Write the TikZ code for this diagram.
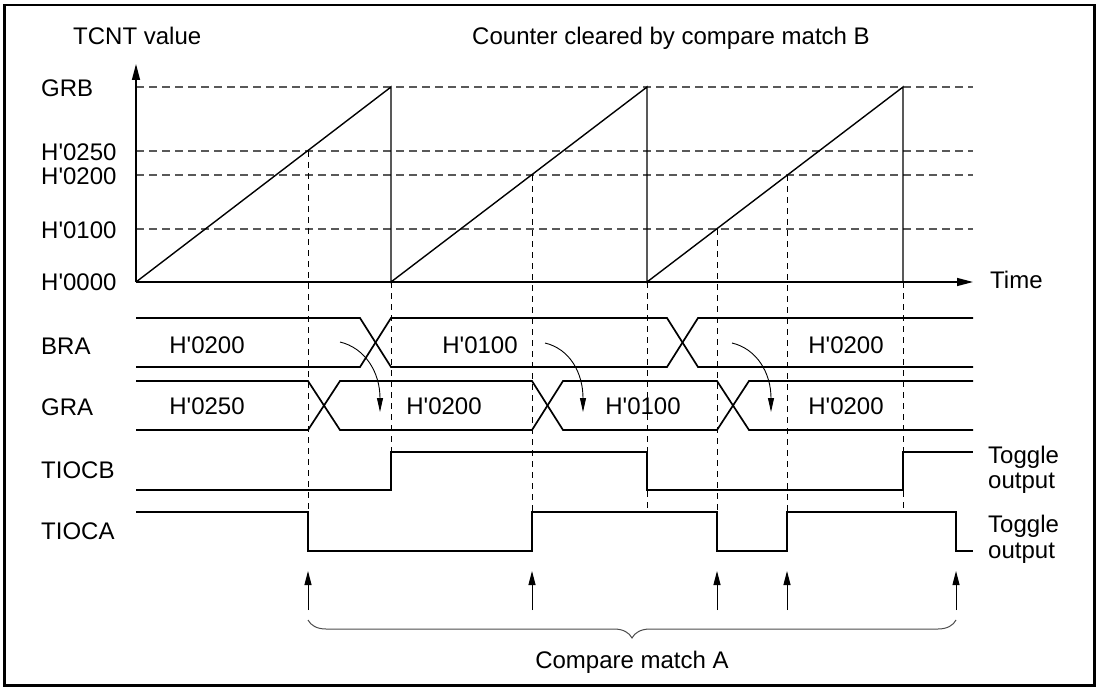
\documentclass[tikz,border=0pt]{standalone}
\usepackage{fontspec}
\newfontfamily\diafont{Liberation Sans}
\usepackage{tikz}
\usetikzlibrary{arrows.meta}
\usetikzlibrary{decorations.pathreplacing}
\newcommand{\hgrid}[1]{\draw[griddash] (136,#1) -- (973,#1);}
\newcommand{\vgrid}[3]{\draw[tickdash] (#1,#2) -- (#1,#3);}
\newcommand{\matcharrow}[1]{\draw[thinarrow] (#1,610) -- (#1,571);}

\begin{document}
\begin{tikzpicture}[x=1pt, y=-1pt,
  sig/.style={line width=1.7pt},
  griddash/.style={line width=1.1pt, black!65, dash pattern=on 8pt off 5pt},
  tickdash/.style={line width=0.9pt, dash pattern=on 6pt off 5pt},
  lbl/.style={anchor=base west, inner sep=0pt, font=\diafont\fontsize{24}{27}\selectfont},
  val/.style={anchor=base, inner sep=0pt, font=\diafont\fontsize{24}{27}\selectfont},
  thinarrow/.style={line width=1pt, -{Triangle[length=14pt,width=7pt]}}]
\useasboundingbox (0,0) rectangle (1100,687);
\draw[line width=2.6pt] (4.5,5) rectangle (1094.5,685.5);

% dashed levels and match times
\hgrid{87} \hgrid{151} \hgrid{175} \hgrid{229}
\vgrid{308}{151}{512}
\vgrid{391}{282}{452}
\vgrid{532}{175}{512}
\vgrid{647}{282}{512}
\vgrid{717}{229}{512}
\vgrid{787}{175}{512}
\vgrid{903}{282}{512}

% axes
\draw[line width=1.4pt, -{Triangle[length=16pt,width=8pt]}] (136,282) -- (136,64);
\draw[line width=1.4pt, -{Triangle[length=16pt,width=8pt]}] (136,282) -- (973,282);

% counter ramps
\draw[line width=1.4pt] (136,282) -- (391,87) -- (391,282) -- (647,87) -- (647,282) -- (903,87) -- (903,282);

% BRA and GRA buses
\draw[sig] (136,318) -- (360,318) -- (391,367) -- (667,367) -- (698,318) -- (973,318);
\draw[sig] (136,367) -- (360,367) -- (391,318) -- (667,318) -- (698,367) -- (973,367);
\draw[sig] (136,381) -- (308,381) -- (340,430) -- (532,430) -- (563,381) -- (717,381) -- (749,430) -- (973,430);
\draw[sig] (136,430) -- (308,430) -- (340,381) -- (532,381) -- (563,430) -- (717,430) -- (749,381) -- (973,381);

% TIOCB and TIOCA
\draw[sig] (136,490) -- (391,490) -- (391,452) -- (647,452) -- (647,490) -- (903,490) -- (903,452) -- (973,452);
\draw[sig] (136,512) -- (308,512) -- (308,551) -- (532,551) -- (532,512) -- (717,512) -- (717,551) -- (787,551) -- (787,512) -- (956,512) -- (956,551) -- (973,551);

% BRA -> GRA transfers
\draw[line width=0.9pt, -{Triangle[length=14pt,width=6pt]}] (340,342) .. controls (365,348) and (380,372) .. (380,412);
\draw[line width=0.9pt, -{Triangle[length=14pt,width=6pt]}] (545,343) .. controls (570,349) and (583,373) .. (583,412);
\draw[line width=0.9pt, -{Triangle[length=14pt,width=6pt]}] (732,343) .. controls (757,349) and (771,373) .. (771,412);

% compare match A
\matcharrow{308} \matcharrow{532} \matcharrow{717} \matcharrow{787} \matcharrow{956}
\draw[decorate, decoration={brace, mirror, amplitude=18pt}, line width=1pt, black!70] (308,620) -- (956,620);

% labels
\node[lbl] (tcnt) at (73,45) {TCNT value};
\node[val] (clrb) at (671,45) {Counter cleared by compare match B};
\node[lbl] (grb) at (41,97) {GRB};
\node[lbl] (lv250) at (41,161) {H'0250};
\node[lbl] (lv200) at (41,185) {H'0200};
\node[lbl] (lv100) at (41,238) {H'0100};
\node[lbl] (lv000) at (41,290) {H'0000};
\node[lbl] (time) at (990,288) {Time};
\node[lbl] (bra) at (41,354) {BRA};
\node[lbl] (gra) at (41,415) {GRA};
\node[lbl] (tiocb) at (41,478) {TIOCB};
\node[lbl] (tioca) at (41,539) {TIOCA};
\node[val] (bra1) at (207,353) {H'0200};
\node[val] (bra2) at (480,353) {H'0100};
\node[val] (bra3) at (846,353) {H'0200};
\node[val] (gra1) at (207,414) {H'0250};
\node[val] (gra2) at (444,414) {H'0200};
\node[val] (gra3) at (643,414) {H'0100};
\node[val] (gra4) at (846,414) {H'0200};
\node[lbl] (tglb) at (988,463) {Toggle};
\node[lbl] (outb) at (988,488) {output};
\node[lbl] (tgla) at (988,532) {Toggle};
\node[lbl] (outa) at (988,558) {output};
\node[val] (cma) at (632,668) {Compare match A};
\end{tikzpicture}
\end{document}
